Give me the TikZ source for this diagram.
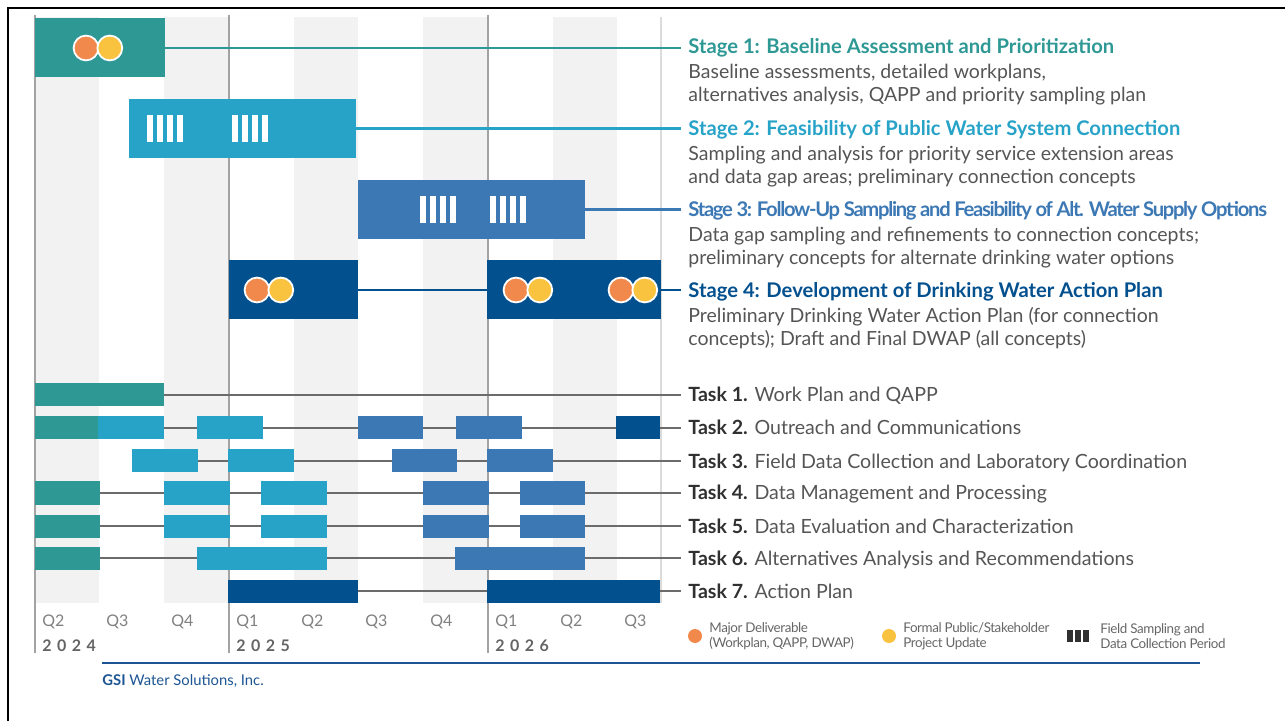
\documentclass[tikz,border=0pt]{standalone}
\usepackage{fontspec}
\setmainfont{Lato}
\usetikzlibrary{positioning,backgrounds}

\definecolor{stageA}{HTML}{2E9895}
\definecolor{stageB}{HTML}{28A3C8}
\definecolor{stageC}{HTML}{3C78B4}
\definecolor{stageD}{HTML}{03508F}
\definecolor{dotO}{HTML}{F0894B}
\definecolor{dotY}{HTML}{F9C23F}
\definecolor{bandgray}{HTML}{F2F2F2}
\definecolor{linegray}{HTML}{6B6B6B}
\definecolor{yeargray}{HTML}{A3A3A3}
\definecolor{txtgray}{HTML}{555555}
\definecolor{darktxt}{HTML}{303030}
\definecolor{gsiblue}{HTML}{1D5594}

\tikzset{
  bar/.style={rectangle, inner sep=0, outer sep=0, anchor=west},
  stagebar/.style={bar, minimum height=29.5pt},
  taskbar/.style={bar, minimum height=11.5pt},
  deliv/.style={circle, inner sep=0, outer sep=0, minimum size=12.4pt, draw=white, line width=0.9pt},
  stagelbl/.style={anchor=west, inner sep=0, text height=7.8pt, text depth=1pt,
    font=\fontsize{10.1}{12}\selectfont\bfseries},
  stagedesc/.style={inner sep=0, align=left, text=txtgray, font=\fontsize{9.75}{11.5}\selectfont},
  tasklbl/.style={anchor=west, inner sep=0, text height=8pt, text depth=1pt, text=txtgray,
    font=\fontsize{9.8}{12}\selectfont},
  stageline/.style={line width=1.2pt},
  taskline/.style={line width=1pt, linegray},
  legtxt/.style={inner sep=0, align=left, text=txtgray!90,
    font=\fontsize{6.7}{7.5}\selectfont\addfontfeature{LetterSpace=-3}},
  qlbl/.style={anchor=west, inner sep=0, text=gray, font=\fontsize{8}{9}\selectfont},
  ylbl/.style={anchor=west, inner sep=0, text=darktxt!75,
    font=\fontsize{8}{9}\selectfont\bfseries\addfontfeature{LetterSpace=34}}
}

% bar from x1 to x2 (px), centred on y
\newcommand{\ganttbar}[6][taskbar]{%
  \node[#1, fill=#6, minimum width={(#4-#3)*0.5pt}] (#2) at (#3,#5) {};}

\begin{document}
\begin{tikzpicture}[x=0.5pt, y=-0.5pt]
\useasboundingbox (0,0) rectangle (1285,721);
\draw[line width=1.3pt] (8,730) -- (8,8) -- (1295,8);

% quarter shading and year rules
\begin{scope}[on background layer]
  \foreach \a/\b in {35/99, 164/229, 294/358, 423/488, 553/617}
    \fill[bandgray] (\a,17) rectangle (\b,603);
  \draw[bandgray!80!gray, line width=0.6pt] (661,17) -- (661,603);
  \foreach \x in {35,229,488}
    \draw[yeargray, line width=1pt] (\x,15) -- (\x,653);
\end{scope}

% stages
\ganttbar[stagebar]{s1}{35}{165}{48}{stageA}
\ganttbar[stagebar]{s2}{129}{356}{128.5}{stageB}
\ganttbar[stagebar]{s3}{358}{585}{209.5}{stageC}
\ganttbar[stagebar]{s4a}{229}{358}{290}{stageD}
\ganttbar[stagebar]{s4b}{487}{661}{290}{stageD}

% deliverable / public update dots
\foreach \k/\x/\y in {a/86/48, b/257/290, c/516/290, d/621/290}{
  \node[deliv, fill=dotO] (do\k) at (\x,\y) {};
  \node[deliv, fill=dotY, right=-0.5pt of do\k] (dy\k) {};
}

% field sampling periods
\foreach \x/\y in {147/128.5, 232/128.5, 420/209.5, 490/209.5}
  \foreach \i in {0,...,3}
    \fill[white] (\x+\i*10,\y-13.5) rectangle ++(6,27);

\node[stagelbl, text=stageA] (st1) at (688,47) {Stage 1: Baseline Assessment and Prioritization};
\node[stagedesc, below=5pt of st1.base west, anchor=north west] (sd1)
  {Baseline assessments, detailed workplans,\\alternatives analysis, QAPP and priority sampling plan};
\node[stagelbl, text=stageB] (st2) at (688,128.5) {Stage 2: Feasibility of Public Water System Connection};
\node[stagedesc, below=5pt of st2.base west, anchor=north west] (sd2)
  {Sampling and analysis for priority service extension areas\\and data gap areas; preliminary connection concepts};
\node[stagelbl, text=stageC] (st3) at (688,209.5)
  {\addfontfeature{LetterSpace=-6.4}Stage 3: Follow-Up Sampling and Feasibility of Alt. Water Supply Options};
\node[stagedesc, below=5pt of st3.base west, anchor=north west] (sd3)
  {Data gap sampling and refinements to connection concepts;\\preliminary concepts for alternate drinking water options};
\node[stagelbl, text=stageD] (st4) at (688,290.5) {Stage 4: Development of Drinking Water Action Plan};
\node[stagedesc, below=5pt of st4.base west, anchor=north west] (sd4)
  {Preliminary Drinking Water Action Plan (for connection\\concepts); Draft and Final DWAP (all concepts)};

% tasks
\foreach \id/\a/\b/\y/\c in {
    t1a/35/164/395/stageA,
    t2a/35/98/428/stageA, t2b/98/164/428/stageB, t2c/197/263/428/stageB,
    t2d/358/423/428/stageC, t2e/456/522/428/stageC, t2f/616/660/428/stageD,
    t3a/132/198/461/stageB, t3b/228/294/461/stageB, t3c/392/457/461/stageC, t3d/487/553/461/stageC,
    t4a/35/100/493/stageA, t4b/164/230/493/stageB, t4c/261/327/493/stageB,
    t4d/423/489/493/stageC, t4e/520/585/493/stageC,
    t5a/35/100/526/stageA, t5b/164/230/526/stageB, t5c/261/327/526/stageB,
    t5d/423/489/526/stageC, t5e/520/585/526/stageC,
    t6a/35/100/558/stageA, t6b/197/327/558/stageB, t6c/455/585/558/stageC,
    t7a/228/358/591/stageD, t7b/487/660/591/stageD}
  {\ganttbar{\id}{\a}{\b}{\y}{\c}}

\foreach \k/\y/\txt in {
    1/395/Work Plan and QAPP,
    2/428/Outreach and Communications,
    3/461/Field Data Collection and Laboratory Coordination,
    4/493/Data Management and Processing,
    5/526/Data Evaluation and Characterization,
    6/558/Alternatives Analysis and Recommendations,
    7/591/Action Plan}
  \node[tasklbl] (task\k) at (688,\y) {{\color{darktxt}\bfseries Task \k.} \txt};

% connectors behind the bars
\begin{scope}[on background layer]
  \draw[stageline, stageA] (s1.center) -- ([xshift=-3.5pt]st1.west |- s1.center);
  \draw[stageline, stageB] (s2.center) -- ([xshift=-3.5pt]st2.west |- s2.center);
  \draw[stageline, stageC] (s3.center) -- ([xshift=-3.5pt]st3.west |- s3.center);
  \draw[stageline, stageD] (s4a.center) -- ([xshift=-3.5pt]st4.west |- s4a.center);
  \foreach \k/\first in {1/t1a, 2/t2a, 3/t3a, 4/t4a, 5/t5a, 6/t6a, 7/t7a}
    \draw[taskline] (\first.west) -- ([xshift=-3.5pt]task\k.west);
\end{scope}

% time axis
\foreach \q/\x in {Q2/35, Q3/99, Q4/164, Q1/229, Q2/294, Q3/358, Q4/423, Q1/488, Q2/553, Q3/617}
  \node[qlbl] at (\x+7,622) {\q};
\foreach \yr/\x in {2024/35, 2025/229, 2026/488}
  \node[ylbl] (yr\yr) at (\x+7,646) {\yr};

% legend
\node[deliv, draw=none, minimum size=7pt, fill=dotO] (lgO) at (695,636) {};
\node[legtxt, right=3.5pt of lgO] (lgOt) {Major Deliverable\\(Workplan, QAPP, DWAP)};
\node[deliv, draw=none, minimum size=7pt, fill=dotY] (lgY) at (889,636) {};
\node[legtxt, right=3.5pt of lgY] (lgYt) {Formal Public/Stakeholder\\Project Update};
\foreach \i in {0,1,2}
  \fill[darktxt] (1067+\i*8,630) rectangle ++(6,12);
\node[legtxt, anchor=west] (lgFt) at (1100,636) {Field Sampling and\\Data Collection Period};

% footer
\draw[gsiblue, line width=0.75pt] (102,663) -- (1200,663);
\node[anchor=west, inner sep=0, text=gsiblue, font=\fontsize{7.4}{8}\selectfont] (gsi) at (102,681)
  {\textbf{GSI} Water Solutions, Inc.};
\end{tikzpicture}
\end{document}
